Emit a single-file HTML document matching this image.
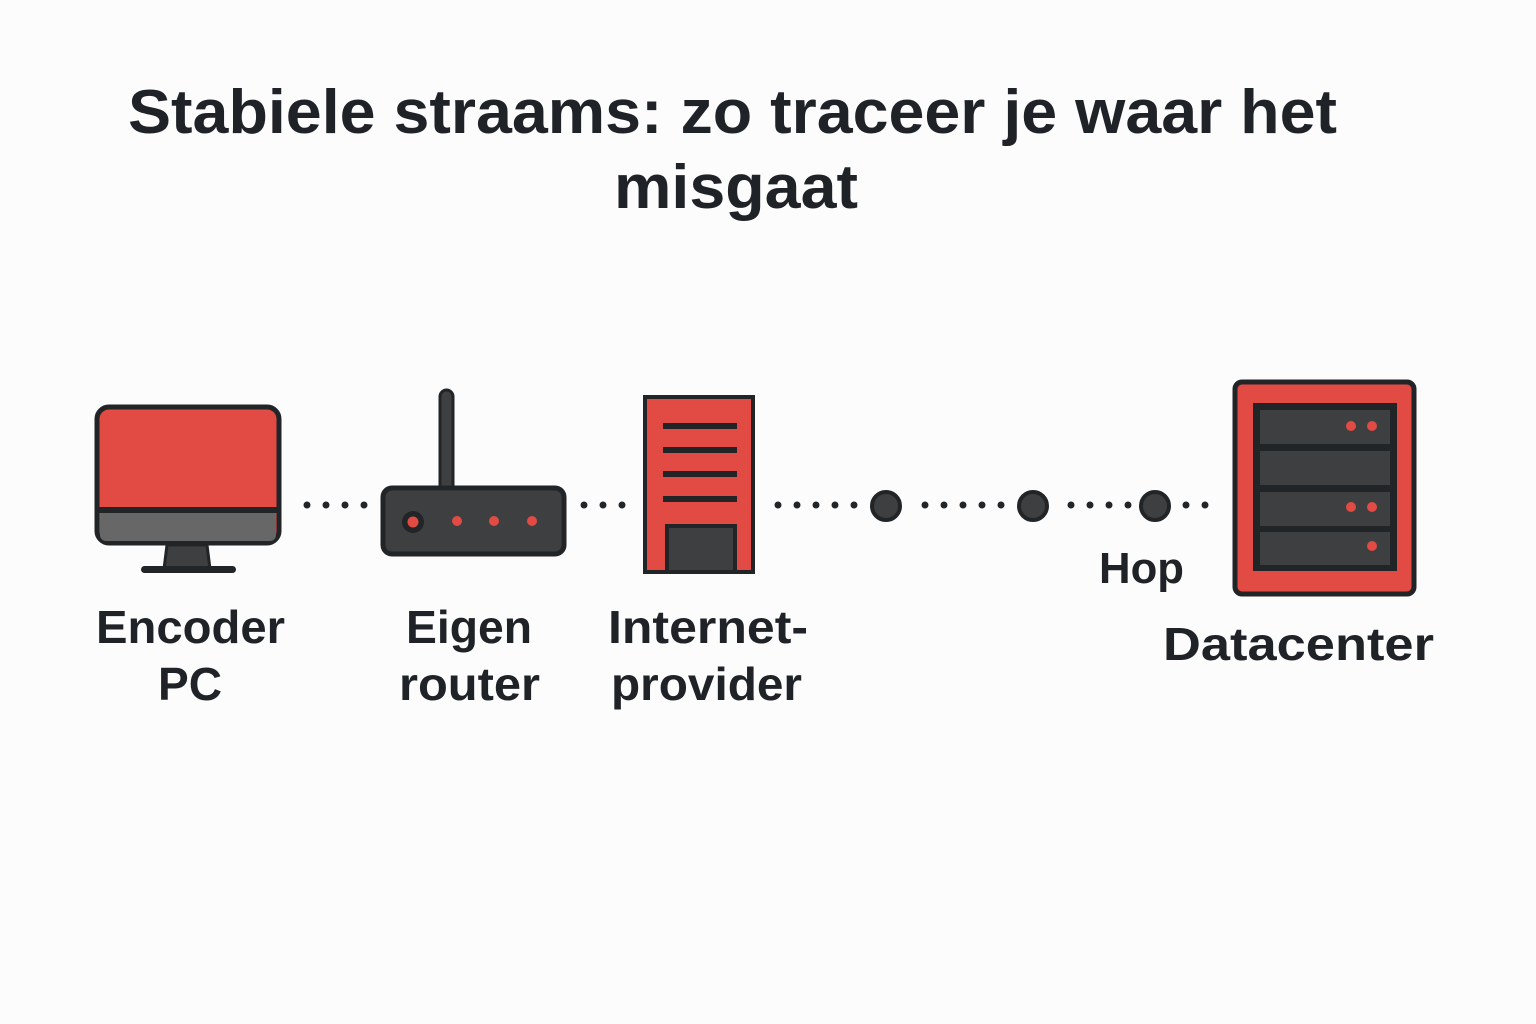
<!DOCTYPE html>
<html><head><meta charset="utf-8"><style>
html,body{margin:0;padding:0;background:#fcfcfc;}
svg{display:block}
text{font-family:"Liberation Sans",sans-serif;font-weight:bold;fill:#1f2328;}
</style></head><body>
<svg width="1536" height="1024" viewBox="0 0 1536 1024" xmlns="http://www.w3.org/2000/svg">
<rect width="1536" height="1024" fill="#fcfcfc"/>
<text x="128" y="133" font-size="62" textLength="1209" lengthAdjust="spacingAndGlyphs">Stabiele straams: zo traceer je waar het</text>
<text x="614" y="208" font-size="62" textLength="244" lengthAdjust="spacingAndGlyphs">misgaat</text>

<!-- monitor -->
<rect x="97" y="407" width="182" height="136" rx="12" fill="#e24a44" stroke="#222528" stroke-width="5"/>
<rect x="100" y="510" width="176" height="31" rx="6" fill="#666766"/>
<line x1="97" y1="510" x2="279" y2="510" stroke="#222528" stroke-width="6"/>
<polygon points="167,545 207,545 210,569 164,569" fill="#3d3f41" stroke="#222528" stroke-width="3"/>
<rect x="141" y="566" width="95" height="7" rx="3.5" fill="#222528"/>

<!-- router -->
<rect x="440" y="390" width="13" height="102" rx="6.5" fill="#3d3f41" stroke="#222528" stroke-width="3"/>
<rect x="383" y="488" width="181" height="66" rx="9" fill="#3d3f41" stroke="#222528" stroke-width="5"/>
<circle cx="413" cy="522" r="11" fill="#222528"/>
<circle cx="413" cy="522" r="5.5" fill="#e24a44"/>
<circle cx="457" cy="521" r="5" fill="#e24a44"/>
<circle cx="494" cy="521" r="5" fill="#e24a44"/>
<circle cx="532" cy="521" r="5" fill="#e24a44"/>

<!-- building -->
<rect x="645" y="397" width="108" height="175" fill="#e24a44" stroke="#222528" stroke-width="4"/>
<g fill="#222528">
<rect x="663" y="423" width="74" height="6"/>
<rect x="663" y="447" width="74" height="6"/>
<rect x="663" y="471" width="74" height="6"/>
<rect x="663" y="496" width="74" height="6"/>
</g>
<rect x="667" y="526" width="68" height="46" fill="#3d3f41" stroke="#222528" stroke-width="4"/>

<!-- dots -->
<g fill="#222528">
<circle cx="307" cy="505" r="3.5"/><circle cx="326" cy="505" r="3.5"/><circle cx="345" cy="505" r="3.5"/><circle cx="364" cy="505" r="3.5"/>
<circle cx="584" cy="505" r="3.5"/><circle cx="603" cy="505" r="3.5"/><circle cx="622" cy="505" r="3.5"/>
<circle cx="778" cy="505" r="3.5"/><circle cx="797" cy="505" r="3.5"/><circle cx="816" cy="505" r="3.5"/><circle cx="835" cy="505" r="3.5"/><circle cx="854" cy="505" r="3.5"/>
<circle cx="925" cy="505" r="3.5"/><circle cx="944" cy="505" r="3.5"/><circle cx="963" cy="505" r="3.5"/><circle cx="982" cy="505" r="3.5"/><circle cx="1001" cy="505" r="3.5"/>
<circle cx="1071" cy="505" r="3.5"/><circle cx="1090" cy="505" r="3.5"/><circle cx="1109" cy="505" r="3.5"/><circle cx="1128" cy="505" r="3.5"/>
<circle cx="1186" cy="505" r="3.5"/><circle cx="1205" cy="505" r="3.5"/>
</g>
<g fill="#3d3f41" stroke="#222528" stroke-width="4">
<circle cx="886" cy="506" r="14"/>
<circle cx="1033" cy="506" r="14"/>
<circle cx="1155" cy="506" r="14"/>
</g>

<!-- datacenter -->
<rect x="1235" y="382" width="179" height="212" rx="7" fill="#e24a44" stroke="#222528" stroke-width="5"/>
<rect x="1253" y="403" width="144" height="168" fill="#222528"/>
<g fill="#3d3f41">
<rect x="1260" y="410" width="130" height="34"/>
<rect x="1260" y="451" width="130" height="34"/>
<rect x="1260" y="492" width="130" height="34"/>
<rect x="1260" y="532" width="130" height="33"/>
</g>
<g fill="#e24a44">
<circle cx="1351" cy="426" r="5"/><circle cx="1372" cy="426" r="5"/>
<circle cx="1351" cy="507" r="5"/><circle cx="1372" cy="507" r="5"/>
<circle cx="1372" cy="546" r="5"/>
</g>

<!-- labels -->
<g font-size="46">
<text x="96" y="643" textLength="189" lengthAdjust="spacingAndGlyphs">Encoder</text>
<text x="158" y="700" textLength="64" lengthAdjust="spacingAndGlyphs">PC</text>
<text x="406" y="643" textLength="126" lengthAdjust="spacingAndGlyphs">Eigen</text>
<text x="399" y="700" textLength="141" lengthAdjust="spacingAndGlyphs">router</text>
<text x="608" y="643" textLength="200" lengthAdjust="spacingAndGlyphs">Internet-</text>
<text x="611" y="700" textLength="191" lengthAdjust="spacingAndGlyphs">provider</text>
<text x="1099" y="583" font-size="44" textLength="85" lengthAdjust="spacingAndGlyphs">Hop</text>
<text x="1163" y="660" textLength="271" lengthAdjust="spacingAndGlyphs">Datacenter</text>
</g>
</svg>
</body></html>
